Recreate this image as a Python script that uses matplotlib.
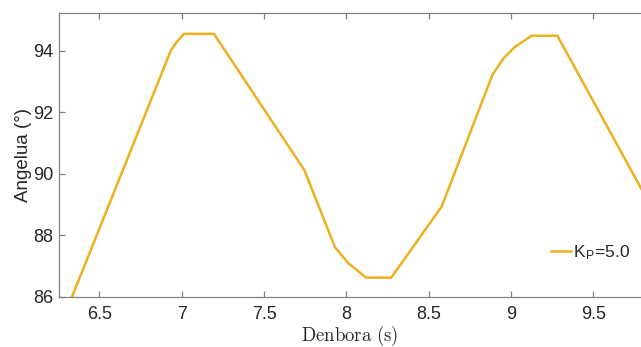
import matplotlib
matplotlib.use("Agg")
import matplotlib.pyplot as plt

plt.rcParams['mathtext.fontset'] = 'cm'

time_s = [6.30, 6.334, 6.935, 6.97, 7.014, 7.196, 7.745, 7.931, 8.012, 8.12, 8.273,
          8.579, 8.887, 8.954, 9.025, 9.126, 9.282, 9.80]
angle_deg = [85.55, 86.0, 94.02, 94.29, 94.55, 94.55, 90.12, 87.61, 87.09, 86.62, 86.62,
             88.93, 93.21, 93.75, 94.13, 94.49, 94.49, 89.43]
series_label = r'K$_\mathregular{P}$=5.0'
xticks = [6.5, 7, 7.5, 8, 8.5, 9, 9.5]
xticklabels = ['6.5', '7', '7.5', '8', '8.5', '9', '9.5']
yticks = [86, 88, 90, 92, 94]

fig = plt.figure(figsize=(6.41, 3.47), dpi=100)
ax = fig.add_axes([0.0916, 0.145, 1.0 - 0.0916, 0.9617 - 0.145])

ax.plot(time_s, angle_deg, color='#EDB120', lw=1.8, label=series_label)

ax.set_xlim(6.253, 9.79)
ax.set_ylim(86, 95.22)
ax.set_xticks(xticks)
ax.set_xticklabels(xticklabels)
ax.set_yticks(yticks)

spine_col = '#808080'
for s in ['left', 'top', 'bottom']:
    ax.spines[s].set_color(spine_col)
    ax.spines[s].set_linewidth(0.9)
ax.spines['right'].set_visible(False)

ax.tick_params(axis='both', direction='in', length=4, width=0.9, color=spine_col,
               labelcolor='#262626', labelsize=13, top=True, labelfontfamily='Liberation Sans')
ax.tick_params(axis='x', pad=6.5)
ax.tick_params(axis='y', pad=4)

ax.set_ylabel('Angelua (°)', fontsize=13.5, family='Liberation Sans', color='#262626', labelpad=1)
ax.set_xlabel(r'$\mathrm{Denbora\ (s)}$', fontsize=13.5, color='#262626', labelpad=0.5)

leg = ax.legend(loc='center left', bbox_to_anchor=(0.818, 0.155), frameon=False,
                handlelength=1.2, handletextpad=0.1,
                prop={'family': 'Liberation Sans', 'size': 12.5})
for t in leg.get_texts():
    t.set_color('#262626')

fig.savefig('out.png', dpi=100)
